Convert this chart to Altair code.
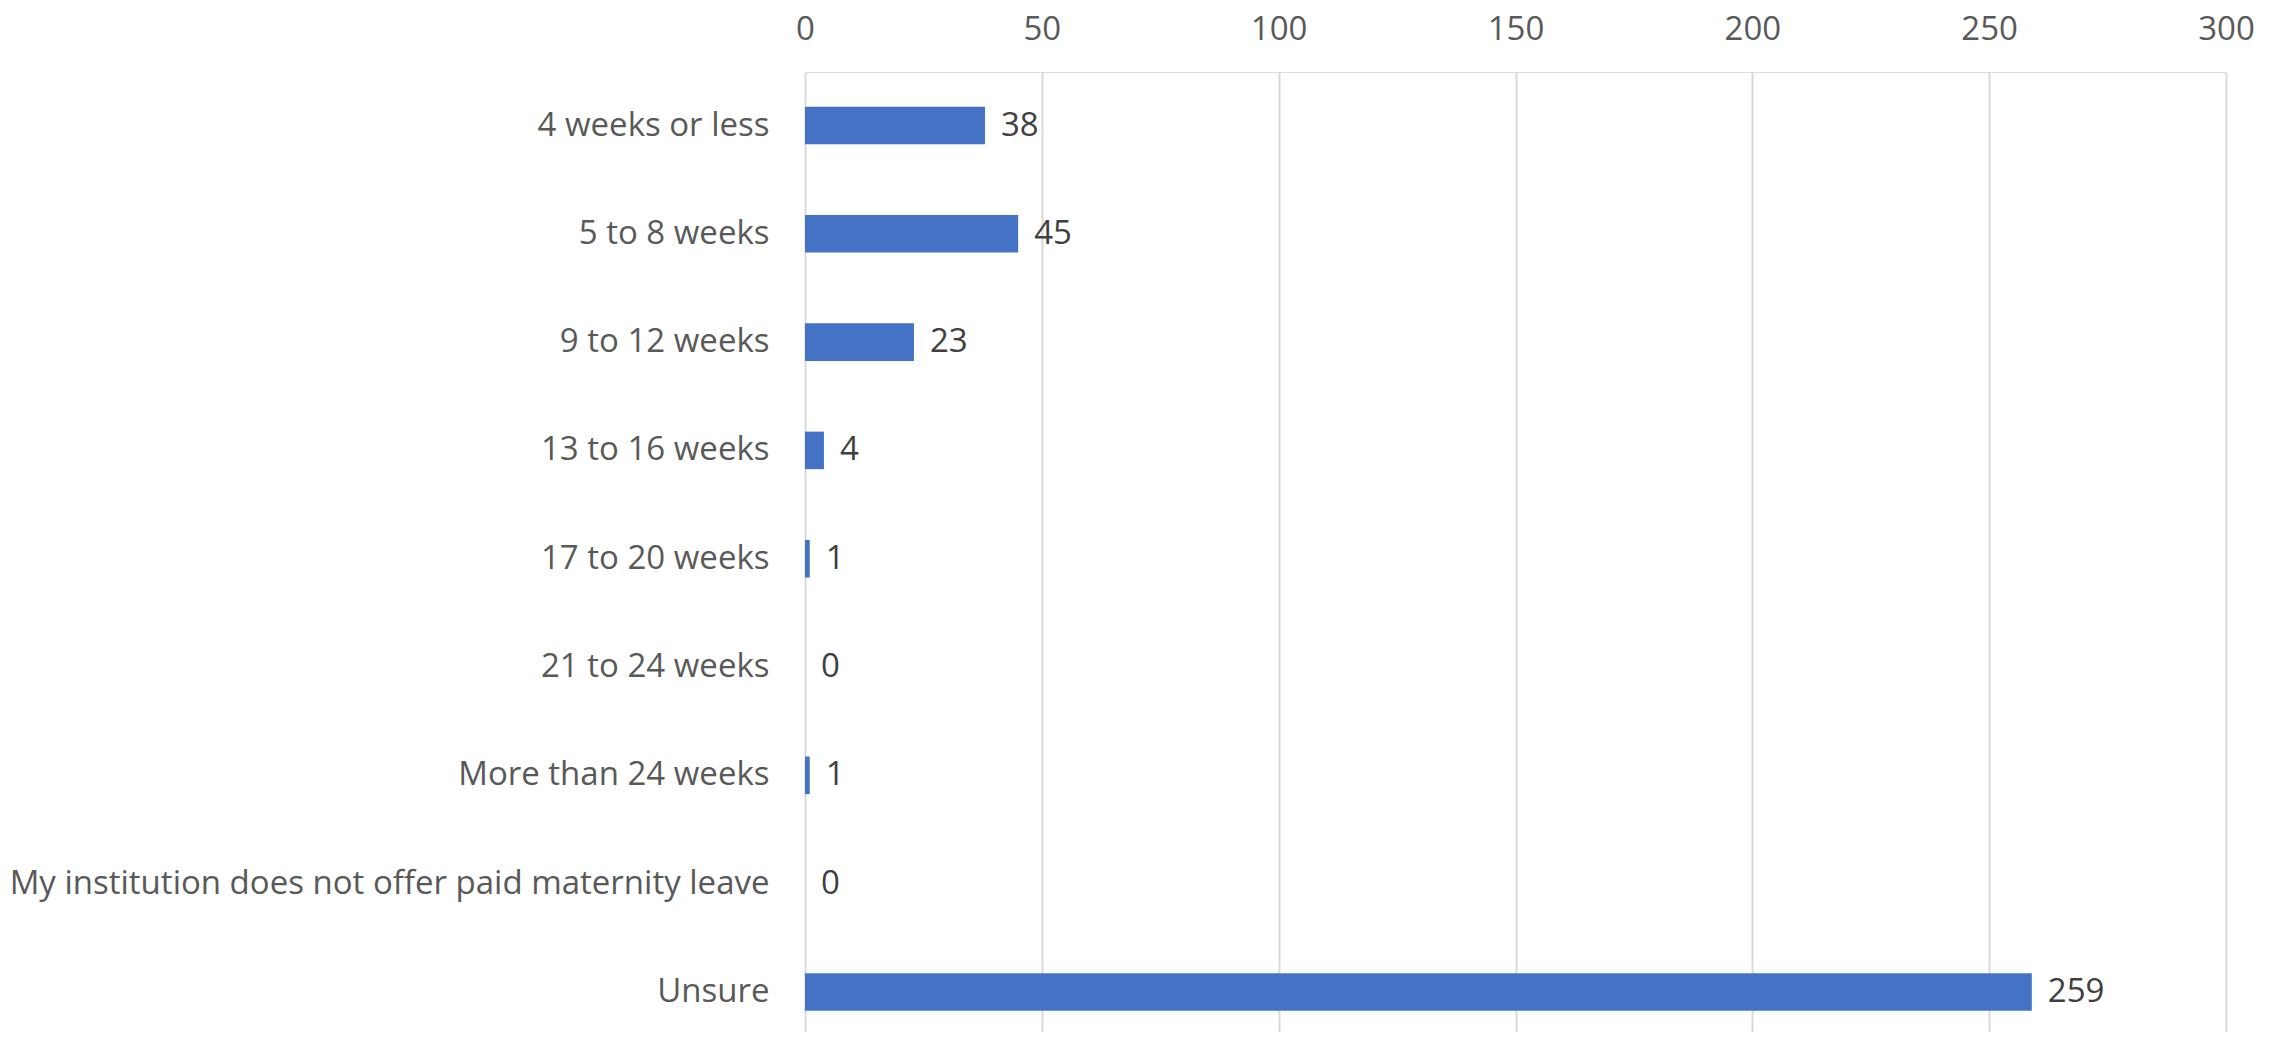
import altair as alt
import pandas as pd

categories = [
    "4 weeks or less",
    "5 to 8 weeks",
    "9 to 12 weeks",
    "13 to 16 weeks",
    "17 to 20 weeks",
    "21 to 24 weeks",
    "More than 24 weeks",
    "My institution does not offer paid maternity leave",
    "Unsure",
]
counts = [38, 45, 23, 4, 1, 0, 1, 0, 259]
x_ticks = [0, 50, 100, 150, 200, 250, 300]

df = pd.DataFrame({"category": categories, "count": counts})

FONT = "Open Sans"
FS = 33

y_enc = alt.Y(
    "category:N",
    sort=categories,
    title=None,
    scale=alt.Scale(paddingInner=0.653, paddingOuter=0.2585, align=0.62),
    axis=alt.Axis(
        domain=False,
        ticks=False,
        tickSize=0,
        labelFont=FONT,
        labelFontSize=FS,
        labelColor="#595959",
        labelPadding=36,
        labelLimit=1200,
        grid=False,
    ),
)

x_enc = alt.X(
    "count:Q",
    title=None,
    scale=alt.Scale(domain=[0, 300], nice=False),
    axis=alt.Axis(
        orient="top",
        values=x_ticks,
        domain=False,
        ticks=False,
        tickSize=0,
        labelFont=FONT,
        labelFontSize=FS,
        labelColor="#595959",
        labelPadding=26,
        labelFlush=False,
        labelOverlap=False,
        grid=True,
        gridColor="#d9d9d9",
        gridWidth=2,
    ),
)

bars = alt.Chart(df).mark_bar(color="#4472C4").encode(x=x_enc, y=y_enc)

labels = alt.Chart(df).mark_text(
    align="left",
    baseline="middle",
    dx=16,
    font=FONT,
    fontSize=FS,
    color="#404040",
).encode(x="count:Q", y=alt.Y("category:N", sort=categories), text="count:Q")

chart = (
    alt.layer(bars, labels)
    .properties(
        width=1421,
        height=960,
        autosize=alt.AutoSizeParams(type="none"),
        padding={"left": 797, "top": 64, "right": 40, "bottom": 0},
    )
    .configure_view(stroke=None)
    .configure(background="white")
)

chart.save("out.html", embed_options={"renderer": "svg", "actions": False})
